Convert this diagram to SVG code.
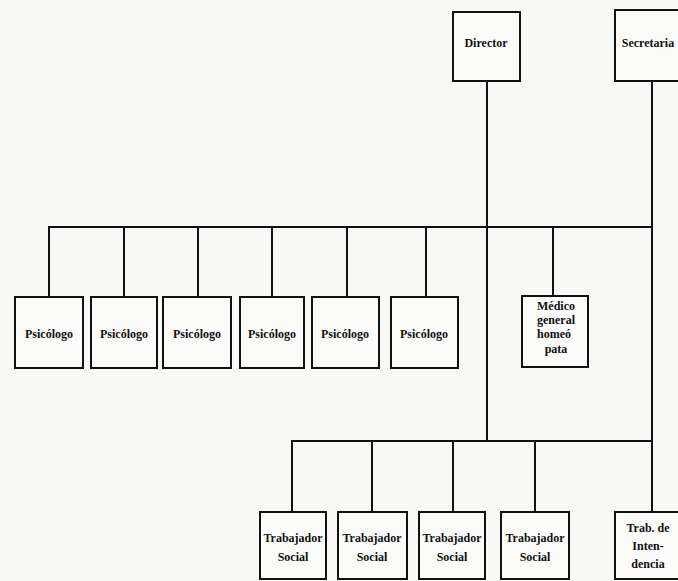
<svg xmlns="http://www.w3.org/2000/svg" width="678" height="581" viewBox="0 0 678 581">
<style>
.box{fill:#fbfbfa;stroke:#111;stroke-width:2}
.ln{stroke:#111;stroke-width:2;fill:none}
text{font-family:"Liberation Serif","Times New Roman",serif;font-size:12px;font-weight:bold;fill:#111;text-anchor:middle}
</style>
<rect x="0" y="0" width="678" height="581" fill="#f8f8f7"/>
<g id="connectors">
<line class="ln" x1="487" y1="81" x2="487" y2="441"/>
<line class="ln" x1="652" y1="81" x2="652" y2="512"/>
<line class="ln" x1="48" y1="227" x2="653" y2="227"/>
<line class="ln" x1="49" y1="227" x2="49" y2="297"/>
<line class="ln" x1="124" y1="227" x2="124" y2="297"/>
<line class="ln" x1="198" y1="227" x2="198" y2="297"/>
<line class="ln" x1="272" y1="227" x2="272" y2="297"/>
<line class="ln" x1="347" y1="227" x2="347" y2="297"/>
<line class="ln" x1="426" y1="227" x2="426" y2="297"/>
<line class="ln" x1="553" y1="227" x2="553" y2="296"/>
<line class="ln" x1="291" y1="441" x2="653" y2="441"/>
<line class="ln" x1="292" y1="441" x2="292" y2="512"/>
<line class="ln" x1="372" y1="441" x2="372" y2="512"/>
<line class="ln" x1="453" y1="441" x2="453" y2="512"/>
<line class="ln" x1="535" y1="441" x2="535" y2="512"/>
</g>
<g id="director"><rect class="box" x="453" y="12" width="67" height="69"/><text x="486" y="47">Director</text></g>
<g id="secretaria"><rect class="box" x="615" y="10" width="75" height="71"/><text x="648" y="47">Secretaria</text></g>
<g id="psi1"><rect class="box" x="15" y="297" width="68" height="71"/><text x="49" y="338">Psicólogo</text></g>
<g id="psi2"><rect class="box" x="91" y="297" width="66" height="71"/><text x="124" y="338">Psicólogo</text></g>
<g id="psi3"><rect class="box" x="163" y="297" width="68" height="71"/><text x="197" y="338">Psicólogo</text></g>
<g id="psi4"><rect class="box" x="240" y="297" width="64" height="71"/><text x="272" y="338">Psicólogo</text></g>
<g id="psi5"><rect class="box" x="312" y="297" width="67" height="71"/><text x="345" y="338">Psicólogo</text></g>
<g id="psi6"><rect class="box" x="391" y="297" width="67" height="71"/><text x="424" y="338">Psicólogo</text></g>
<g id="medico"><rect class="box" x="522" y="296" width="66" height="71"/>
<text x="556" y="310">Médico</text><text x="556" y="324">general</text><text x="554" y="338">homeó</text><text x="556" y="353">pata</text></g>
<g id="ts1"><rect class="box" x="260" y="512" width="66" height="67"/><text x="293" y="542">Trabajador</text><text x="293" y="561">Social</text></g>
<g id="ts2"><rect class="box" x="338" y="512" width="69" height="67"/><text x="372" y="542">Trabajador</text><text x="372" y="561">Social</text></g>
<g id="ts3"><rect class="box" x="419" y="512" width="66" height="67"/><text x="452" y="542">Trabajador</text><text x="452" y="561">Social</text></g>
<g id="ts4"><rect class="box" x="501" y="512" width="68" height="67"/><text x="535" y="542">Trabajador</text><text x="535" y="561">Social</text></g>
<g id="intendencia"><rect class="box" x="615" y="512" width="75" height="67"/><text x="648" y="532">Trab. de</text><text x="648" y="550">Inten-</text><text x="648" y="568">dencia</text></g>
</svg>
